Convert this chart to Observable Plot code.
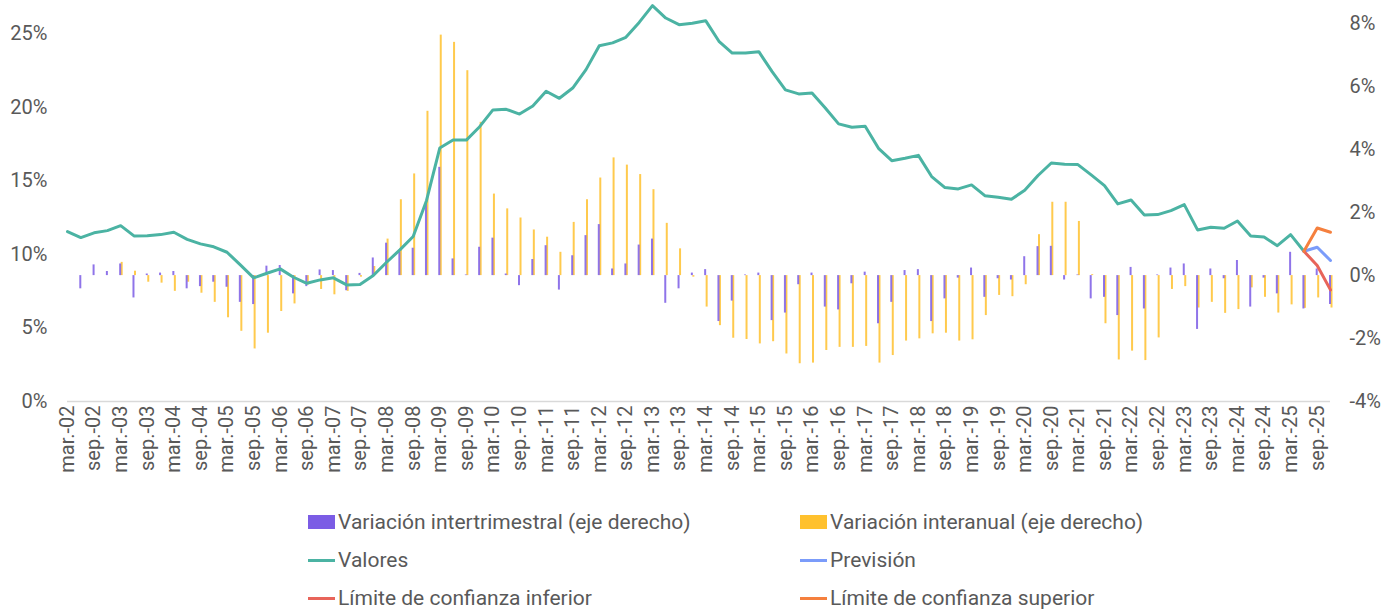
<!DOCTYPE html>
<html><head><meta charset="utf-8">
<script src="https://cdn.jsdelivr.net/npm/d3@7"></script>
<script src="https://cdn.jsdelivr.net/npm/@observablehq/plot@0.6"></script>
<style>
body{margin:0;background:#fff;font-family:Roboto, "Noto Sans", sans-serif;}
#legend{position:relative;height:110px;width:1400px;color:#595959;font-size:21px;}
.item{position:absolute;display:flex;align-items:center;white-space:nowrap;height:24px;transform:translateY(-50%);}
.sw{display:inline-block;width:27px;margin-right:3px;}
</style></head><body>
<div id="chart"></div>
<div id="legend"></div>
<script>
const quarters = [
"mar.-02","jun.-02","sep.-02","dic.-02","mar.-03","jun.-03","sep.-03","dic.-03",
"mar.-04","jun.-04","sep.-04","dic.-04","mar.-05","jun.-05","sep.-05","dic.-05",
"mar.-06","jun.-06","sep.-06","dic.-06","mar.-07","jun.-07","sep.-07","dic.-07",
"mar.-08","jun.-08","sep.-08","dic.-08","mar.-09","jun.-09","sep.-09","dic.-09",
"mar.-10","jun.-10","sep.-10","dic.-10","mar.-11","jun.-11","sep.-11","dic.-11",
"mar.-12","jun.-12","sep.-12","dic.-12","mar.-13","jun.-13","sep.-13","dic.-13",
"mar.-14","jun.-14","sep.-14","dic.-14","mar.-15","jun.-15","sep.-15","dic.-15",
"mar.-16","jun.-16","sep.-16","dic.-16","mar.-17","jun.-17","sep.-17","dic.-17",
"mar.-18","jun.-18","sep.-18","dic.-18","mar.-19","jun.-19","sep.-19","dic.-19",
"mar.-20","jun.-20","sep.-20","dic.-20","mar.-21","jun.-21","sep.-21","dic.-21",
"mar.-22","jun.-22","sep.-22","dic.-22","mar.-23","jun.-23","sep.-23","dic.-23",
"mar.-24","jun.-24","sep.-24","dic.-24","mar.-25","jun.-25","sep.-25","dic.-25"];

// Valores (left axis, %), mar.-02 .. jun.-25
const valores = [
11.56,11.15,11.47,11.62,11.96,11.26,11.28,11.35,11.51,11.03,10.72,10.52,10.15,9.29,8.41,8.72,
9.02,8.45,8.04,8.27,8.41,7.93,7.95,8.57,9.47,10.31,11.22,13.66,17.24,17.78,17.78,18.69,
19.83,19.87,19.55,20.10,21.10,20.62,21.32,22.57,24.20,24.39,24.77,25.78,26.92,26.08,25.63,25.72,
25.90,24.50,23.70,23.70,23.79,22.43,21.19,20.92,20.98,19.96,18.88,18.65,18.72,17.22,16.38,16.54,
16.74,15.30,14.55,14.46,14.73,14.00,13.89,13.75,14.37,15.37,16.22,16.13,16.11,15.41,14.68,13.44,
13.70,12.69,12.71,12.98,13.39,11.67,11.85,11.78,12.28,11.26,11.19,10.60,11.35,10.22];

// Variación intertrimestral (right axis, %), mar.-02 .. dic.-25
const intertrimestral = [
null,-0.42,0.34,0.13,0.37,-0.71,0.05,0.08,0.13,-0.42,-0.35,-0.21,-0.37,-0.85,-0.92,0.30,
0.32,-0.58,-0.35,0.18,0.16,-0.48,0.07,0.56,1.03,0.74,0.87,2.30,3.44,0.53,0.02,0.90,
1.19,0.05,-0.32,0.51,0.95,-0.46,0.63,1.27,1.62,0.21,0.37,0.97,1.16,-0.88,-0.42,0.08,
0.19,-1.46,-0.81,0.02,0.08,-1.43,-1.19,-0.29,0.08,-1.00,-1.09,-0.26,0.11,-1.53,-0.85,0.16,
0.19,-1.46,-0.74,-0.08,0.24,-0.69,-0.10,-0.14,0.60,0.92,0.93,-0.14,0.02,-0.74,-0.69,-1.27,
0.26,-1.06,0.02,0.24,0.37,-1.71,0.21,-0.10,0.48,-1.00,-0.08,-0.58,0.74,-1.06,0.21,-0.92];

// Variación interanual (right axis, %), mar.-02 .. dic.-25
const interanual = [
null,null,null,null,0.42,0.14,-0.21,-0.24,-0.50,-0.21,-0.56,-0.85,-1.34,-1.77,-2.33,-1.83,
-1.14,-0.90,-0.30,-0.44,-0.61,-0.50,-0.05,0.29,1.16,2.41,3.23,5.22,7.64,7.41,6.51,4.87,
2.59,2.12,1.83,1.45,1.22,0.74,1.69,2.41,3.10,3.74,3.51,3.21,2.73,1.66,0.85,-0.05,
-1.00,-1.59,-1.99,-2.03,-2.17,-2.10,-2.49,-2.80,-2.78,-2.38,-2.28,-2.28,-2.25,-2.78,-2.54,-2.08,
-2.01,-1.85,-1.83,-2.08,-2.04,-1.27,-0.63,-0.67,-0.29,1.30,2.33,2.33,1.72,0.03,-1.53,-2.68,
-2.40,-2.70,-1.98,-0.44,-0.35,-1.03,-0.85,-1.20,-1.08,-0.39,-0.69,-1.19,-0.93,-1.04,-0.71,-1.03];

// Forecast (left axis, %), jun.-25 .. dic.-25
const forecastQuarters = ["jun.-25","sep.-25","dic.-25"];
const prevision = [10.22,10.49,9.59];
const limiteInferior = [10.22,9.25,7.59];
const limiteSuperior = [10.22,11.80,11.51];

const leftTicks = [0,5,10,15,20,25];
const rightTicks = [-4,-2,0,2,4,6,8];

const colors = {
  inter: "#7B5CE5", anual: "#FFC12E", valores: "#4BB3A3",
  prev: "#7B9CFA", inf: "#E8645A", sup: "#F5803E"
};

// right axis (-4..8.613) mapped onto the left y scale (0..27)
const R0 = -4, R1 = 8.613, L1 = 27;
const toL = v => (v - R0) * L1 / (R1 - R0);
const fromL = y => y * (R1 - R0) / L1 + R0;

const idx = q => quarters.indexOf(q);
const valData = valores.map((v, i) => ({i, v}));
const qoqData = intertrimestral.map((v, i) => ({i, v})).filter(d => d.v != null);
const yoyData = interanual.map((v, i) => ({i, v})).filter(d => d.v != null);
const fc = (arr) => arr.map((v, k) => ({i: idx(forecastQuarters[k]), v}));

const chart = Plot.plot({
  width: 1400, height: 500,
  marginLeft: 67, marginRight: 70, marginTop: 4, marginBottom: 99,
  x: {type: "linear", domain: [0, quarters.length - 1], axis: null},
  y: {domain: [0, L1], axis: null},
  style: {fontFamily: "Roboto, 'Noto Sans', sans-serif", color: "#595959", background: "#fff", overflow: "visible"},
  marks: [
    Plot.ruleY([0], {stroke: "#d9d9d9", strokeWidth: 1.5}),
    Plot.ruleX(yoyData, {x: "i", y1: toL(0), y2: d => toL(d.v), stroke: colors.anual, strokeWidth: 2, dx: 1, strokeOpacity: 0.85}),
    Plot.ruleX(qoqData, {x: "i", y1: toL(0), y2: d => toL(d.v), stroke: colors.inter, strokeWidth: 2, dx: -0.5, strokeOpacity: 0.85}),
    Plot.line(valData, {x: "i", y: "v", stroke: colors.valores, strokeWidth: 3}),
    Plot.line(fc(prevision), {x: "i", y: "v", stroke: colors.prev, strokeWidth: 3}),
    Plot.line(fc(limiteInferior), {x: "i", y: "v", stroke: colors.inf, strokeWidth: 3}),
    Plot.line(fc(limiteSuperior), {x: "i", y: "v", stroke: colors.sup, strokeWidth: 3}),
    Plot.axisY(leftTicks, {anchor: "left", label: null, tickFormat: d => d + "%", tickSize: 0, tickPadding: 20, fontSize: 20}),
    Plot.axisY(rightTicks.map(toL), {anchor: "right", label: null, tickFormat: d => Math.round(fromL(d)) + "%", tickSize: 0, tickPadding: 19, fontSize: 20}),
    Plot.axisX(d3.range(0, quarters.length, 2), {label: null, tickFormat: i => quarters[i], tickRotate: -90, tickSize: 0, tickPadding: 4, fontSize: 20})
  ]
});
document.getElementById("chart").appendChild(chart);

const legendItems = [
  {label: "Variación intertrimestral (eje derecho)", color: colors.inter, type: "bar", x: 308, y: 22},
  {label: "Variación interanual (eje derecho)", color: colors.anual, type: "bar", x: 800, y: 22},
  {label: "Valores", color: colors.valores, type: "line", x: 308, y: 60},
  {label: "Previsión", color: colors.prev, type: "line", x: 800, y: 60},
  {label: "Límite de confianza inferior", color: colors.inf, type: "line", x: 308, y: 98},
  {label: "Límite de confianza superior", color: colors.sup, type: "line", x: 800, y: 98}
];
const leg = document.getElementById("legend");
for (const it of legendItems) {
  const d = document.createElement("div");
  d.className = "item";
  d.style.left = it.x + "px";
  d.style.top = it.y + "px";
  const s = document.createElement("span");
  s.className = "sw";
  s.style.background = it.color;
  s.style.height = it.type === "bar" ? "14px" : "3px";
  d.appendChild(s);
  d.appendChild(document.createTextNode(it.label));
  leg.appendChild(d);
}
</script>
</body></html>
